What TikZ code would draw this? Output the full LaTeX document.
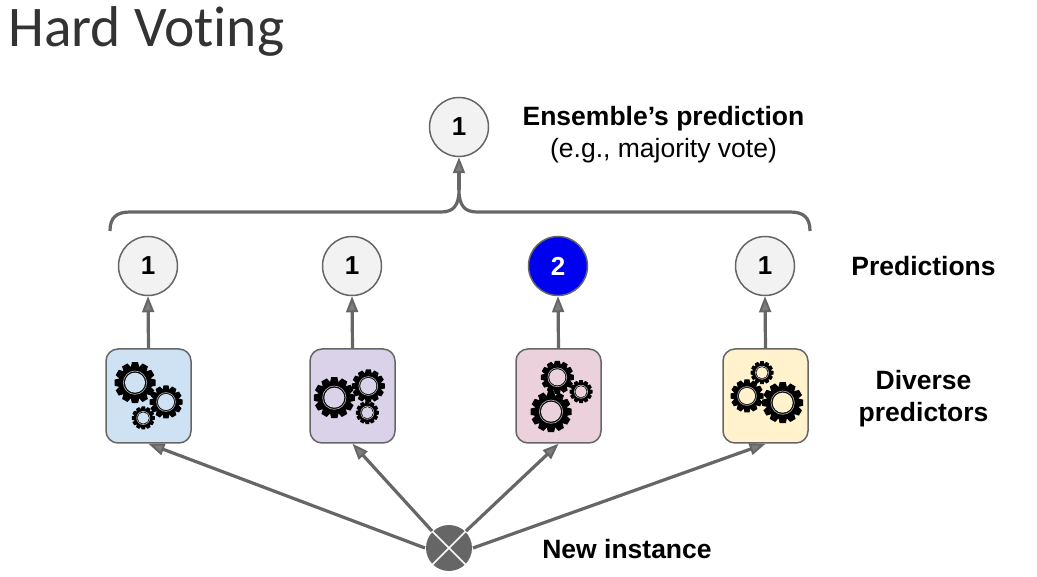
\documentclass[tikz,border=0pt]{standalone}
\usepackage{fontspec}
\setmainfont{Liberation Sans}
\newfontfamily\titlefont[Ligatures=NoCommon]{Carlito}
\usetikzlibrary{arrows.meta}
\definecolor{linegray}{HTML}{666666}
\definecolor{blueface}{HTML}{CFE2F3}
\definecolor{purpleface}{HTML}{D9D2E9}
\definecolor{pinkface}{HTML}{EAD1DC}
\definecolor{yellowface}{HTML}{FFF2CC}
\tikzset{
  vote/.style={circle,draw=linegray,line width=1.5pt,fill=black!5,minimum size=59pt,inner sep=0pt,font=\fontsize{26}{26}\selectfont\bfseries},
  predictor/.style={rectangle,rounded corners=12pt,draw=linegray,line width=1.5pt,minimum width=85pt,minimum height=94pt,inner sep=0pt},
  arr/.style={draw=linegray,line width=3.2pt,-{Triangle[length=16pt,width=12pt,line width=2pt,fill=linegray!85]}},
  lbl/.style={font=\fontsize{26.5}{32}\selectfont\bfseries,align=center},
}
% x, y, radius, face colour
\newcommand{\gear}[4]{
  \foreach \a in {0,30,...,330}
    \fill[black,shift={(#1,#2)},rotate=\a] (-0.22*#3,-0.7*#3) -- (-0.15*#3,-#3) -- (0.15*#3,-#3) -- (0.22*#3,-0.7*#3) -- cycle;
  \fill[black] (#1,#2) circle (0.8*#3);
  \draw[black!35,line width=0.7pt] (#1,#2) circle (0.57*#3);
  \fill[#4] (#1,#2) circle (0.49*#3);
}
\begin{document}
\begin{tikzpicture}[x=1pt,y=-1pt]
\useasboundingbox (0,0) rectangle (1037,577);

\node[anchor=base west,inner sep=0pt,text=black!80] (title) at (8,47) {\titlefont\fontsize{57.5}{57.5}\selectfont Hard Voting};

\node[vote] (final) at (459,127) {1};
\node[lbl,anchor=center] (finaltext) at (663.5,135) {Ensemble's prediction\\{\mdseries (e.g., majority vote)}};

\node[vote] (out1) at (148,266) {1};
\node[vote] (out2) at (352,266) {1};
\node[vote,fill={rgb,255:red,0;green,0;blue,240},text=white] (out3) at (558,266) {2};
\node[vote] (out4) at (765,266) {1};
\node[lbl] (outtext) at (923.5,266) {Predictions};

\node[predictor,fill=blueface] (box1) at (148.5,396) {};
\node[predictor,fill=purpleface] (box2) at (352.5,396) {};
\node[predictor,fill=pinkface] (box3) at (558.5,396) {};
\node[predictor,fill=yellowface] (box4) at (765.5,396) {};
\node[lbl] (boxtext) at (923.5,399) {Diverse\\predictors};

\gear{135}{382.7}{20.5}{blueface}
\gear{166}{402}{16.5}{blueface}
\gear{143.3}{418}{11.5}{blueface}

\gear{334.3}{397.7}{20.5}{purpleface}
\gear{368.3}{386}{16.5}{purpleface}
\gear{367.3}{412.7}{11.5}{purpleface}

\gear{551}{411.7}{20.5}{pinkface}
\gear{557.3}{377.3}{16.5}{pinkface}
\gear{581}{391.7}{11.5}{pinkface}

\gear{782.7}{402.7}{20.5}{yellowface}
\gear{747}{396}{16.5}{yellowface}
\gear{762}{372.7}{11.5}{yellowface}

\node[circle,fill=linegray,minimum size=46pt,inner sep=0pt,outer sep=1pt] (inst) at (449,548) {};
\draw[white,line width=1.5pt] (inst.45) -- (inst.225) (inst.135) -- (inst.315);
\node[lbl] (insttext) at (627,549) {New instance};

\coordinate (bracetop) at (459,190);
\coordinate (braceleft) at (110,231);
\coordinate (braceright) at (810,231);
\draw[linegray,line width=3.2pt] (braceleft) .. controls (110,218) and (116,212) .. (130,212) -- (441,212) .. controls (453,212) and (459,206) .. (bracetop) .. controls (459,206) and (465,212) .. (477,212) -- (790,212) .. controls (804,212) and (810,218) .. (braceright);
\draw[arr] (bracetop) -- (final.south);

\foreach \i in {1,2,3,4}
  \draw[arr] (box\i.north) -- (out\i.south);

\draw[arr] (inst.west) -- (box1.south);
\draw[arr] (inst.135) -- (box2.south);
\draw[arr] (inst.45) -- (box3.south);
\draw[arr] (inst.east) -- (box4.south);
\end{tikzpicture}
\end{document}
